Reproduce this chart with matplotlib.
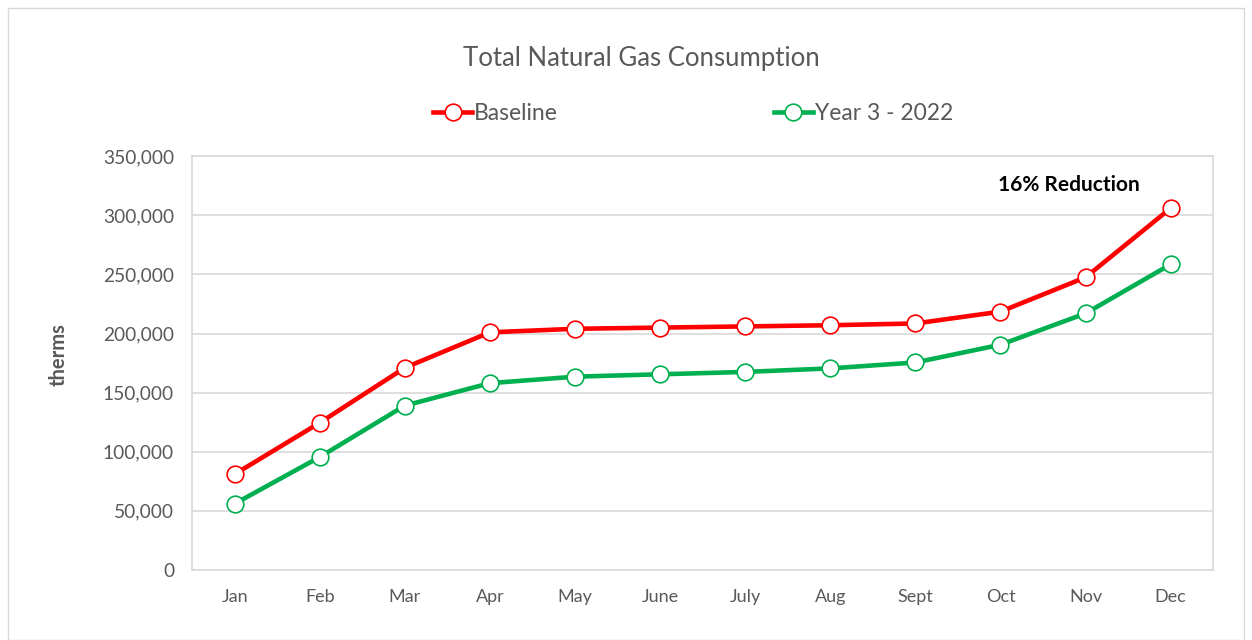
import matplotlib.pyplot as plt
from matplotlib.ticker import FuncFormatter
from matplotlib.patches import Rectangle

plt.rcParams['font.family'] = ['Lato', 'DejaVu Sans']

red = '#ff0000'
green = '#00b050'
text_gray = '#595959'
grid_gray = '#d9d9d9'

months = ['Jan', 'Feb', 'Mar', 'Apr', 'May', 'June', 'July', 'Aug', 'Sept', 'Oct', 'Nov', 'Dec']
baseline = [81000, 124500, 171000, 201000, 204000, 205000, 206000, 207000, 208500, 218500, 247500, 306000]
year3 = [56000, 95500, 139000, 158000, 163500, 165500, 167500, 170500, 175500, 190500, 217000, 258500]

fig = plt.figure(figsize=(12.52, 6.4), dpi=100)
ax = fig.add_axes([0.1534, 0.1094, 0.8156, 0.6466])

# outer chart border
fig.patches.append(Rectangle((0.006, 0.0), 0.988, 0.987, transform=fig.transFigure,
                             fill=False, edgecolor=grid_gray, linewidth=1.0))

x = range(len(months))
ax.plot(x, baseline, color=red, linewidth=3.3, marker='o', markersize=12,
        markerfacecolor='white', markeredgecolor=red, markeredgewidth=1.2,
        label='Baseline', zorder=3)
ax.plot(x, year3, color=green, linewidth=3.3, marker='o', markersize=12,
        markerfacecolor='white', markeredgecolor=green, markeredgewidth=1.2,
        label='Year 3 - 2022', zorder=3)

ax.set_xlim(-0.5, len(months) - 0.5)
ax.set_ylim(0, 350000)
ax.set_yticks(range(0, 350001, 50000))
ax.yaxis.set_major_formatter(FuncFormatter(lambda v, p: f'{int(v):,}'))
ax.set_xticks(list(x))
ax.set_xticklabels(months)
ax.grid(axis='y', color=grid_gray, linewidth=1.2)
ax.set_axisbelow(True)
for s in ax.spines.values():
    s.set_color(grid_gray)
    s.set_linewidth(1.2)
ax.tick_params(axis='y', length=0, colors=text_gray, labelsize=13.8, pad=13)
ax.tick_params(axis='x', length=0, colors=text_gray, labelsize=13, pad=14)

ax.set_ylabel('therms', color=text_gray, fontsize=14.5, fontweight='bold')
ax.yaxis.set_label_coords(-0.121, 0.52)

fig.text(0.512, 0.908, 'Total Natural Gas Consumption', ha='center', va='center',
         fontsize=18.5, color=text_gray)

fig.legend(loc='center', bbox_to_anchor=(0.5536, 0.823), ncol=2, frameon=False,
           fontsize=16.5, labelcolor=text_gray, handlelength=1.7, handletextpad=0.1,
           columnspacing=9.4)

ax.text(9.8, 326000, '16% Reduction', ha='center', va='center', fontsize=15,
        fontweight='bold', color='black')

fig.savefig('out.png', dpi=100)
